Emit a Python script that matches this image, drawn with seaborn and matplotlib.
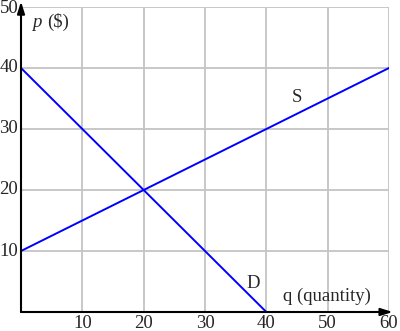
import matplotlib
matplotlib.use("Agg")
import matplotlib.pyplot as plt
import seaborn as sns
import pandas as pd

q_supply = [0, 60]
p_supply = [10, 40]
q_demand = [0, 40]
p_demand = [40, 0]
x_ticks = [10, 20, 30, 40, 50, 60]
y_ticks = [10, 20, 30, 40, 50]

sns.set_style("white")
plt.rcParams['font.family'] = ['Liberation Serif', 'DejaVu Serif']

fig = plt.figure(figsize=(4.0, 3.31), dpi=100)
ax = fig.add_axes([21/400, 19/331, 368/400, 305/331])

supply = pd.DataFrame({"q": q_supply, "p": p_supply})
demand = pd.DataFrame({"q": q_demand, "p": p_demand})

for v in x_ticks:
    ax.axvline(v, color="#c4c4c4", lw=1.3, zorder=1)
for v in y_ticks:
    ax.axhline(v, color="#c4c4c4", lw=1.3, zorder=1)

sns.lineplot(data=supply, x="q", y="p", ax=ax, color="#0000ff", lw=1.4, zorder=3)
sns.lineplot(data=demand, x="q", y="p", ax=ax, color="#0000ff", lw=1.4, zorder=3)

ax.set_xlim(0, 60)
ax.set_ylim(0, 50)
for s in ax.spines.values():
    s.set_visible(False)
ax.set_xticks([])
ax.set_yticks([])
ax.set_xlabel("")
ax.set_ylabel("")

arrow = dict(arrowstyle="-|>,head_length=0.7,head_width=0.22", color="black", lw=1.5, shrinkA=0, shrinkB=0)
ax.annotate("", xy=(60.6, 0), xytext=(0, 0), arrowprops=arrow, annotation_clip=False, zorder=5)
ax.annotate("", xy=(0, 50.9), xytext=(0, 0), arrowprops=arrow, annotation_clip=False, zorder=5)

fs = 13.5
for v in x_ticks:
    ax.text(v, -2.6, str(v), ha="center", va="baseline", fontsize=fs, clip_on=False)
for v in y_ticks[:-1]:
    ax.text(-0.45, v, str(v), ha="right", va="center", fontsize=fs, clip_on=False)
ax.text(-0.45, y_ticks[-1] - 0.3, str(y_ticks[-1]), ha="right", va="center", fontsize=fs, clip_on=False)

ax.text(1.8, 47.5, "p", fontsize=fs, ha="left", va="center", style="italic")
ax.text(4.2, 47.5, "($)", fontsize=fs, ha="left", va="center")
ax.text(45.0, 35.2, "S", fontsize=fs, ha="center", va="center")
ax.text(37.9, 4.7, "D", fontsize=fs, ha="center", va="center")
ax.text(49.8, 2.6, "q (quantity)", fontsize=fs, ha="center", va="center")

fig.savefig("out.png", dpi=100)
